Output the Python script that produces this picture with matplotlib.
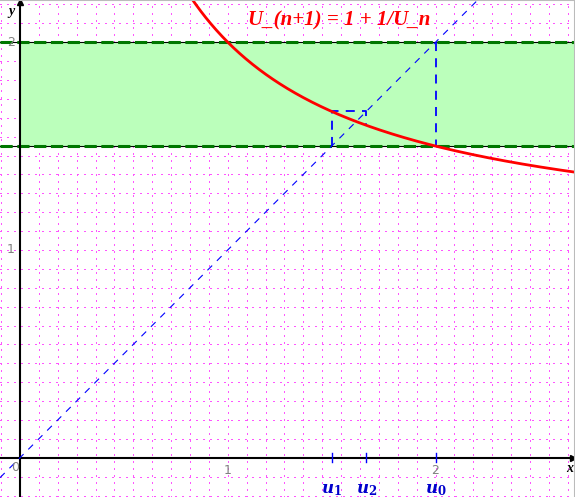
import numpy as np
import matplotlib.pyplot as plt

plt.rcParams['mathtext.fontset'] = 'dejavuserif'

# sequence u_(n+1) = 1 + 1/u_n, starting at u_0 = 2
u_terms = [2.0, 1.5, 1.6667, 1.6]
u_labels = ['0', '1', '2']
band = [1.5, 2.0]
xticks = [1, 2]
yticks = [1, 2]
title = 'U_(n+1) = 1 + 1/U_n'

xmin, xmax = -0.096, 2.671
ymin, ymax = -0.189, 2.203

fig = plt.figure(figsize=(5.75, 4.97), dpi=100)
ax = fig.add_axes([0, 0, 1, 1])
ax.set_xlim(xmin, xmax)
ax.set_ylim(ymin, ymax)
ax.axis('off')

# pink dotted grid, 1/11 unit spacing
step = 1 / 11
for k in range(-2, 31):
    ax.axvline(k * step, color='#ff55ff', lw=0.8, ls=(0, (1, 4.5)), antialiased=False, zorder=0)
for k in range(-3, 25):
    ax.axhline(k * step, color='#ff55ff', lw=0.8, ls=(0, (1, 4.5)), antialiased=False, zorder=0)

# green band between 1.5 and 2
ax.fill_between([0, xmax], band[0], band[1], color='#bbffbb', zorder=1, lw=0)
for b in band:
    ax.axhline(b, color='black', lw=0.8, zorder=2)
    ax.axhline(b, color='#007700', lw=2.2, ls=(0, (4, 1.5)), zorder=2)

# axes
ax.axhline(0, color='black', lw=1.5, zorder=3)
ax.axvline(0, color='black', lw=1.5, zorder=3)
ax.plot([xmax - 0.012], [0], marker='>', color='black', ms=5, zorder=4, clip_on=False)
ax.plot([0], [ymax - 0.012], marker='^', color='black', ms=5, zorder=4, clip_on=False)

# y = x
ax.plot([xmin, xmax], [xmin, xmax], color='blue', lw=0.8, ls=(0, (6, 6)), zorder=3)

# curve
xc = np.linspace(0.8, xmax, 400)
ax.plot(xc, 1 + 1 / xc, color='#ff0000', lw=2, zorder=4)

# cobweb (the first horizontal step lies under the band line)
ax.plot([u_terms[0], u_terms[0]], [u_terms[0], u_terms[1]], color='blue', lw=1.3, ls=(0, (5, 4)), zorder=3)
cx = [u_terms[1], u_terms[1], u_terms[2], u_terms[2]]
cy = [u_terms[1], u_terms[2], u_terms[2], u_terms[3]]
ax.plot(cx, cy, color='blue', lw=1.3, ls=(0, (5, 4)), zorder=3)

# blue ticks + labels for u_n
for v, lab in zip(u_terms[:3], u_labels):
    ax.plot([v, v], [-0.022, 0.022], color='blue', lw=1, zorder=4)
    ax.text(v, -0.15, r'$\boldsymbol{u}_{\mathbf{' + lab + '}}$', color='#0000cc',
            ha='center', va='center', fontsize=12)

# tick labels
for t in xticks:
    ax.text(t, -0.06, str(t), color='gray', ha='center', va='center', fontsize=9)
for t in yticks:
    ax.text(-0.045, t, str(t), color='gray', ha='center', va='center', fontsize=9)
ax.text(-0.025, -0.045, '0', color='gray', ha='center', va='center', fontsize=9)

serif = ['Liberation Serif', 'DejaVu Serif']
ax.text(-0.04, 2.15, 'y', family=serif, style='italic', weight='bold', fontsize=10, ha='center', va='center')
ax.text(2.645, -0.05, 'x', family=serif, style='italic', weight='bold', fontsize=10, ha='center', va='center')
ax.text(1.535, 2.105, title, family=serif, style='italic', weight='bold', fontsize=15,
        color='#ff0000', ha='center', va='center', zorder=5)

# light border top/right
ax.plot([xmin, xmax, xmax], [ymax, ymax, ymin], color='#bbbbbb', lw=1.5, clip_on=False, zorder=5)

fig.savefig('out.png', dpi=100)
